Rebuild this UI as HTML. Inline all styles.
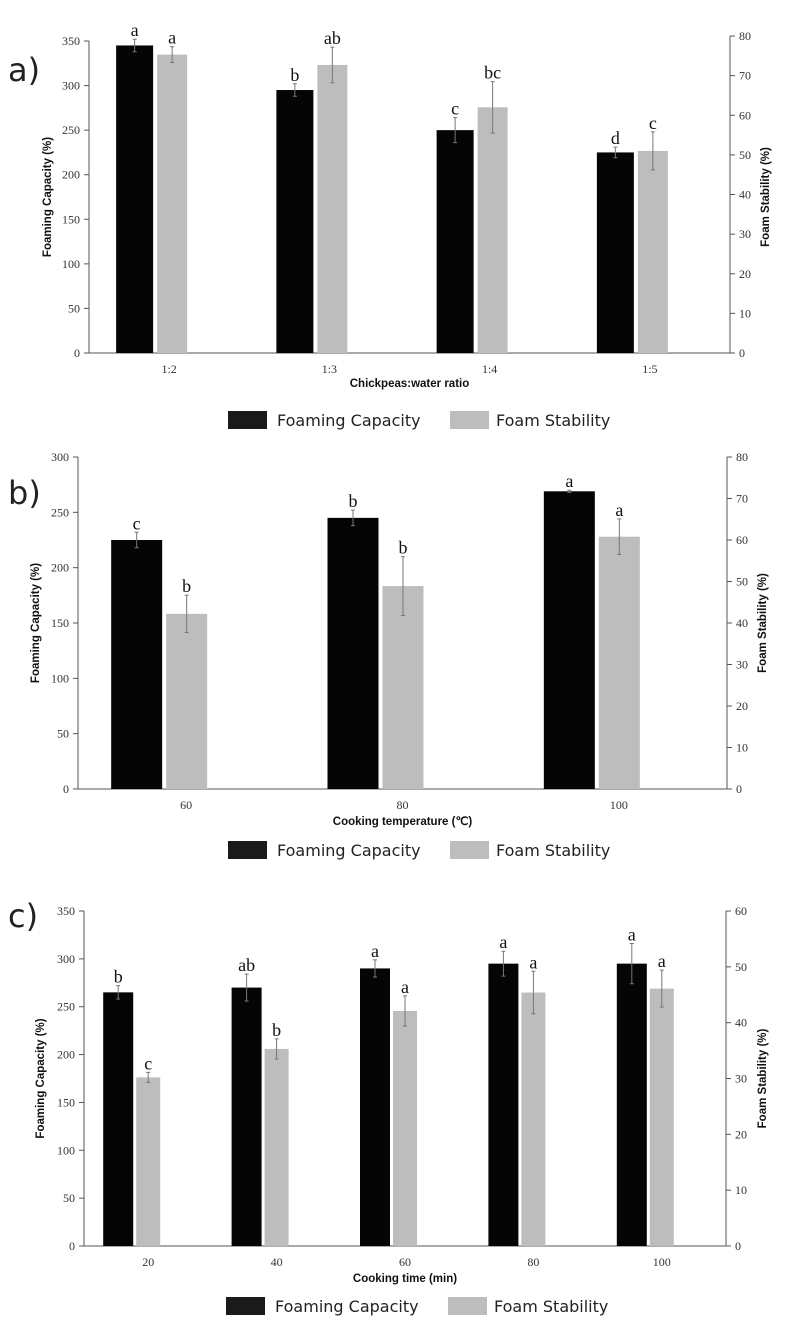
<!DOCTYPE html>
<html><head><meta charset="utf-8">
<style>
html,body{margin:0;padding:0;background:#fff;}
svg{display:block;}
.tick{font-family:"Liberation Serif",serif;font-size:12px;fill:#333;}
.ttl{font-family:"Liberation Sans",sans-serif;font-size:11.5px;font-weight:bold;fill:#111;}
.sig{font-family:"Liberation Serif",serif;font-size:18px;fill:#111;}
.leg{font-family:"DejaVu Sans","Liberation Sans",sans-serif;font-size:16px;fill:#222;}
.pl{font-family:"DejaVu Sans","Liberation Sans",sans-serif;font-size:32px;fill:#222;}
</style></head>
<body>
<svg id="chart" width="800" height="1340" viewBox="0 0 800 1340" xmlns="http://www.w3.org/2000/svg"></svg>
<script>
// Panel a data
const catsA = ["1:2","1:3","1:4","1:5"];
const fcA = [345,295,250,225];
const fcErrA = [7,7,14,6];
const fsA = [75.3,72.7,62,51];
const fsErrA = [2,4.5,6.5,4.8];
const fcSigA = ["a","b","c","d"];
const fsSigA = ["a","ab","bc","c"];
const leftTicksA = [0,50,100,150,200,250,300,350];
const rightTicksA = [0,10,20,30,40,50,60,70,80];
// Panel b data
const catsB = ["60","80","100"];
const fcB = [225,245,269];
const fcErrB = [7,7,1];
const fsB = [42.2,48.9,60.8];
const fsErrB = [4.5,7.1,4.3];
const fcSigB = ["c","b","a"];
const fsSigB = ["b","b","a"];
const leftTicksB = [0,50,100,150,200,250,300];
const rightTicksB = [0,10,20,30,40,50,60,70,80];
// Panel c data
const catsC = ["20","40","60","80","100"];
const fcC = [265,270,290,295,295];
const fcErrC = [7,14,9,13,21];
const fsC = [30.2,35.3,42.1,45.4,46.1];
const fsErrC = [0.9,1.8,2.7,3.8,3.3];
const fcSigC = ["b","ab","a","a","a"];
const fsSigC = ["c","b","a","a","a"];
const leftTicksC = [0,50,100,150,200,250,300,350];
const rightTicksC = [0,10,20,30,40,50,60];

const NS="http://www.w3.org/2000/svg";
const svg=document.getElementById('chart');
function mk(tag,attrs,parent,text){
  const e=document.createElementNS(NS,tag);
  for(const k in attrs)e.setAttribute(k,attrs[k]);
  if(text!==undefined)e.textContent=text;
  (parent||svg).appendChild(e);return e;
}
function panel(o){
  const g=mk('g',{});
  
  
  const yL=v=>o.y0-(v/o.lMax)*(o.y0-o.yTop);
  const yR=v=>o.y0-(v/o.rMax)*(o.y0-o.rTop);
  const n=o.cats.length, step=(o.xR-o.xL)/n;
  const xc=i=>o.xL+step*(i+0.5);
  const pl=mk('text',{class:'pl',x:8,y:o.plY},g,o.letter+')');
  
  
  const ax=mk('path',{d:`M${o.xL},${o.yTop} V${o.y0} H${o.xR} V${o.rTop}`,fill:'none',stroke:'#555','stroke-width':1},g);
  
  
  o.lt.forEach(v=>{
    mk('line',{x1:o.xL-5,x2:o.xL,y1:yL(v),y2:yL(v),stroke:'#555'},g);
    const t=mk('text',{class:'tick',x:o.xL-9,y:yL(v)+4,'text-anchor':'end'},g,v);
    
    
  });
  o.rt.forEach(v=>{
    mk('line',{x1:o.xR,x2:o.xR+5,y1:yR(v),y2:yR(v),stroke:'#555'},g);
    const t=mk('text',{class:'tick',x:o.xR+9,y:yR(v)+4},g,v);
    
    
  });
  o.cats.forEach((c,i)=>{
    const t=mk('text',{class:'tick',x:xc(i),y:o.y0+20,'text-anchor':'middle'},g,c);
    
    
    const bx=xc(i)+o.b0, by=yL(o.fc[i]);
    const b=mk('rect',{x:bx,y:by,width:o.bw,height:o.y0-by,fill:'#050505'},g);
    
    
    const ecx=bx+o.bw/2, et=yL(o.fc[i]+o.fcE[i]), eb=yL(o.fc[i]-o.fcE[i]);
    mk('path',{d:`M${ecx},${et}V${eb}M${ecx-2},${et}h4M${ecx-2},${eb}h4`,stroke:'#777','stroke-width':1},g);
    const s=mk('text',{class:'sig',x:ecx,y:et-3,'text-anchor':'middle'},g,o.fcS[i]);
    
    
    const gx=xc(i)+o.g0, gy=yR(o.fs[i]);
    const r=mk('rect',{x:gx,y:gy,width:o.gw,height:o.y0-gy,fill:'#bdbdbd'},g);
    
    
    const gcx=gx+o.gw/2, gt=yR(o.fs[i]+o.fsE[i]), gb=yR(o.fs[i]-o.fsE[i]);
    mk('path',{d:`M${gcx},${gt}V${gb}M${gcx-2},${gt}h4M${gcx-2},${gb}h4`,stroke:'#777','stroke-width':1},g);
    const s2=mk('text',{class:'sig',x:gcx,y:gt-3,'text-anchor':'middle'},g,o.fsS[i]);
    
    
  });
  const midY=(o.yTop+o.y0)/2;
  const lt=mk('text',{class:'ttl',transform:`translate(${o.ltX},${midY}) rotate(-90)`,'text-anchor':'middle'},g,'Foaming Capacity (%)');
  
  
  const rtt=mk('text',{class:'ttl',transform:`translate(${o.rtX},${midY}) rotate(-90)`,'text-anchor':'middle'},g,'Foam Stability (%)');
  
  
  const xt=mk('text',{class:'ttl',x:(o.xL+o.xR)/2,y:o.xtY,'text-anchor':'middle'},g,o.xtitle);
  
  
  const lg=mk('g',{},g);
  
  
  const e1=mk('rect',{x:o.legX,y:o.legY,width:39,height:18,fill:'#1a1a1a'},lg);
  
  
  const t1=mk('text',{class:'leg',x:o.legX+49,y:o.legY+15},lg,'Foaming Capacity');
  
  
  const e2=mk('rect',{x:o.legX+222,y:o.legY,width:39,height:18,fill:'#bdbdbd'},lg);
  
  
  const t2=mk('text',{class:'leg',x:o.legX+268,y:o.legY+15},lg,'Foam Stability');
  
  
}
panel({id:'a',letter:'a',plY:81,xL:89,xR:730,yTop:41,rTop:36,y0:353,lMax:350,rMax:80,
  cats:catsA,fc:fcA,fcE:fcErrA,fs:fsA,fsE:fsErrA,fcS:fcSigA,fsS:fsSigA,lt:leftTicksA,rt:rightTicksA,
  b0:-53,bw:37,g0:-12,gw:30,ltX:51,rtX:769,xtY:387,xtitle:'Chickpeas:water ratio',legX:228,legY:411});
panel({id:'b',letter:'b',plY:504,xL:78,xR:727,yTop:457,rTop:457,y0:789,lMax:300,rMax:80,
  cats:catsB,fc:fcB,fcE:fcErrB,fs:fsB,fsE:fsErrB,fcS:fcSigB,fsS:fsSigB,lt:leftTicksB,rt:rightTicksB,
  b0:-75,bw:51,g0:-20,gw:41,ltX:39,rtX:766,xtY:825,xtitle:'Cooking temperature (\u2103)',legX:228,legY:841});
panel({id:'c',letter:'c',plY:927,xL:84,xR:726,yTop:911,rTop:911,y0:1246,lMax:350,rMax:60,
  cats:catsC,fc:fcC,fcE:fcErrC,fs:fsC,fsE:fsErrC,fcS:fcSigC,fsS:fsSigC,lt:leftTicksC,rt:rightTicksC,
  b0:-45,bw:30,g0:-12,gw:24,ltX:44,rtX:766,xtY:1282,xtitle:'Cooking time (min)',legX:226,legY:1297});
</script>
</body></html>
